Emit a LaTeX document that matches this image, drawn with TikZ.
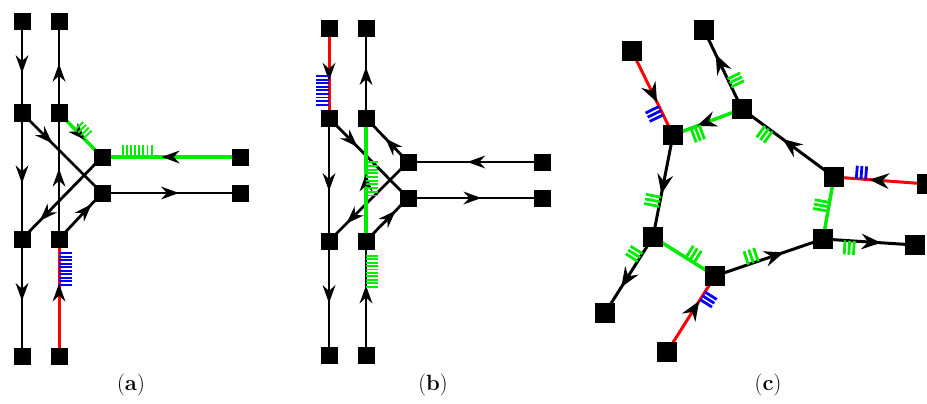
\documentclass[tikz,border=0pt]{standalone}
\usetikzlibrary{calc,decorations.markings,backgrounds}
\definecolor{gn}{RGB}{0,235,0}
\definecolor{bu}{RGB}{0,0,255}
\definecolor{rr}{RGB}{255,0,0}
\tikzset{
  sqa/.style={fill=black,draw=none,minimum size=17pt,inner sep=0pt,outer sep=0pt},
  sqc/.style={sqa,minimum size=20pt},
  blk/.style={draw=black,line width=2.8pt},
  grn/.style={draw=gn,line width=3.5pt},
  redl/.style={draw=rr,line width=3pt},
  blkc/.style={draw=black,line width=3pt},
  grnc/.style={draw=gn,line width=3.5pt},
  redc/.style={draw=rr,line width=3pt},
  tkb/.style={draw=bu,line width=1.9pt},
  tkg/.style={draw=gn,line width=1.9pt},
  tkbc/.style={draw=bu,line width=2.8pt},
  tkgc/.style={draw=gn,line width=2.8pt},
  ar/.style={postaction={decorate,decoration={markings,mark=at position #1 with {\fill[black] (1pt,0pt) -- (-17pt,6.5pt) -- (-11pt,0pt) -- (-17pt,-6.5pt) -- cycle;}}}},
  arc/.style={postaction={decorate,decoration={markings,mark=at position #1 with {\fill[black] (1pt,0pt) -- (-19pt,8pt) -- (-12pt,0pt) -- (-19pt,-8pt) -- cycle;}}}},
  lab/.style={font=\fontsize{22}{26}\selectfont,inner sep=0pt}
}
% #1 from, #2 to, #3 fractions, #4 length, #5 angle, #6 style
\newcommand\hatchset[6]{%
  \foreach \hT in {#3}{%
    \coordinate (hb) at ($(#1)!\hT!(#2)$);
    \draw[#6] (hb) -- ($(hb)!#4!#5:(#2)$);
  }}
\begin{document}
\begin{tikzpicture}[x=1pt,y=-1pt]
\useasboundingbox (0,0) rectangle (927,404);
% ---------- (a)
\node[sqa] (A1) at (22,22) {};
\node[sqa] (A2) at (59,22) {};
\node[sqa] (A3) at (22,113) {};
\node[sqa] (A4) at (59,113) {};
\node[sqa] (A5) at (102,157) {};
\node[sqa] (A6) at (102,193) {};
\node[sqa] (A7) at (240,157) {};
\node[sqa] (A8) at (240,193) {};
\node[sqa] (A9) at (22,239) {};
\node[sqa] (A10) at (59,239) {};
\node[sqa] (A11) at (22,356) {};
\node[sqa] (A12) at (59,356) {};
% ---------- (b)
\node[sqa] (B1) at (329,29) {};
\node[sqa] (B2) at (366,29) {};
\node[sqa] (B3) at (329,118) {};
\node[sqa] (B4) at (366,118) {};
\node[sqa] (B5) at (408,162) {};
\node[sqa] (B6) at (408,198) {};
\node[sqa] (B7) at (542,162) {};
\node[sqa] (B8) at (542,198) {};
\node[sqa] (B9) at (329,241) {};
\node[sqa] (B10) at (366,241) {};
\node[sqa] (B11) at (329,355) {};
\node[sqa] (B12) at (366,355) {};
% ---------- (c)
\node[sqc] (C1) at (632,51) {};
\node[sqc] (C2) at (704,30) {};
\node[sqc] (C3) at (673,135) {};
\node[sqc] (C4) at (742,109) {};
\node[sqc] (C5) at (834,177) {};
\node[sqc] (C6) at (927,184) {};
\node[sqc] (C7) at (823,239) {};
\node[sqc] (C8) at (915,245) {};
\node[sqc] (C9) at (653,237) {};
\node[sqc] (C10) at (715,276) {};
\node[sqc] (C11) at (605,313) {};
\node[sqc] (C12) at (667,352) {};
% labels
\node[lab] (La) at (131,385) {(\textbf{a})};
\node[lab] (Lb) at (433,385) {(\textbf{b})};
\node[lab] (Lc) at (768,385) {(\textbf{c})};
\begin{pgfonlayer}{background}
% ---- (a) edges
\draw[blk,ar=0.55] (A1.center) -- (A3.center);
\draw[blk,ar=0.53] (A4.center) -- (A2.center);
\draw[blk,ar=0.55] (A3.center) -- (A9.center);
\draw[blk,ar=0.52] (A9.center) -- (A11.center);
\draw[blk,ar=0.55] (A10.center) -- (A4.center);
\draw[blk,ar=0.37] (A3.center) -- (A6.center);
\draw[blk,ar=0.77] (A5.center) -- (A9.center);
\draw[blk,ar=0.74] (A10.center) -- (A6.center);
\draw[blk,ar=0.55] (A6.center) -- (A8.center);
\draw[redl,ar=0.61] (A12.center) -- (A10.center);
\hatchset{A12}{A10}{0.61,0.64,...,0.88}{13pt}{-90}{tkb}
\draw[grn,ar=0.6] (A4.center) -- (A5.center);
\hatchset{A4}{A5}{0.38,0.445,...,0.64}{11pt}{90}{tkg}
\draw[grn,ar=0.56] (A7.center) -- (A5.center);
\hatchset{A7}{A5}{0.64,0.67,...,0.85}{12pt}{-90}{tkg}
% ---- (b) edges
\draw[blk,ar=0.56] (B4.center) -- (B2.center);
\draw[blk,ar=0.585] (B3.center) -- (B9.center);
\draw[blk,ar=0.535] (B9.center) -- (B11.center);
\draw[blk,ar=0.35] (B3.center) -- (B6.center);
\draw[blk,ar=0.52] (B5.center) -- (B4.center);
\draw[blk,ar=0.77] (B5.center) -- (B9.center);
\draw[blk,ar=0.69] (B10.center) -- (B6.center);
\draw[blk,ar=0.55] (B7.center) -- (B5.center);
\draw[blk,ar=0.54] (B6.center) -- (B8.center);
\draw[redl,ar=0.57] (B1.center) -- (B3.center);
\hatchset{B1}{B3}{0.53,0.57,...,0.89}{13pt}{-90}{tkb}
\draw[blk,ar=0.6] (B12.center) -- (B10.center);
\hatchset{B12}{B10}{0.6,0.63,...,0.87}{12pt}{-90}{tkg}
\draw[grn,ar=0.54] (B10.center) -- (B4.center);
\hatchset{B10}{B4}{0.37,0.40,...,0.64}{12pt}{-90}{tkg}
% ---- (c) edges
\draw[redc,arc=0.6] (C1.center) -- (C3.center);
\hatchset{C1}{C3}{0.66,0.71,0.76}{15pt}{-90}{tkbc}
\draw[blkc,arc=0.68] (C4.center) -- (C2.center);
\hatchset{C4}{C2}{0.28,0.33,0.38}{14pt}{-90}{tkgc}
\draw[grnc,arc=0.64] (C4.center) -- (C3.center);
\hatchset{C4}{C3}{0.62,0.68,0.74}{15pt}{90}{tkgc}
\draw[blkc,arc=0.55] (C5.center) -- (C4.center);
\hatchset{C5}{C4}{0.67,0.71,0.75}{14pt}{90}{tkgc}
\draw[redc,arc=0.61] (C6.center) -- (C5.center);
\hatchset{C6}{C5}{0.66,0.71,0.76}{13pt}{-90}{tkbc}
\draw[grnc] (C5.center) -- (C7.center);
\hatchset{C5}{C7}{0.41,0.48,0.55}{15pt}{-90}{tkgc}
\draw[blkc,arc=0.62] (C7.center) -- (C8.center);
\hatchset{C7}{C8}{0.24,0.29,0.34}{14pt}{-90}{tkgc}
\draw[blkc,arc=0.63] (C10.center) -- (C7.center);
\hatchset{C10}{C7}{0.31,0.355,0.40}{14pt}{90}{tkgc}
\draw[grnc] (C9.center) -- (C10.center);
\hatchset{C9}{C10}{0.53,0.595,0.66}{14pt}{90}{tkgc}
\draw[blkc,arc=0.57] (C3.center) -- (C9.center);
\hatchset{C3}{C9}{0.61,0.655,0.70}{15pt}{-90}{tkgc}
\draw[blkc,arc=0.65] (C9.center) -- (C11.center);
\hatchset{C9}{C11}{0.22,0.27,0.32}{14pt}{-90}{tkgc}
\draw[redc,arc=0.66] (C12.center) -- (C10.center);
\hatchset{C12}{C10}{0.69,0.74,0.79}{14pt}{-90}{tkbc}
\end{pgfonlayer}
\end{tikzpicture}
\end{document}
